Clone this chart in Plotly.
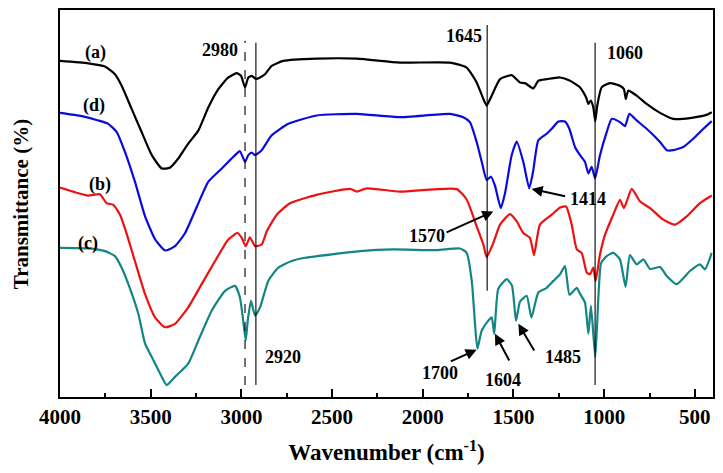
import plotly.graph_objects as go

# ---------------- data (wavenumber cm^-1, transmittance in arbitrary offset units) ----------------
wn_a = [4000, 3844, 3752, 3697, 3660, 3605, 3550, 3494, 3439, 3394, 3348, 3293, 3237, 3182, 3127, 3072,
        3026, 3002, 2980, 2962, 2943, 2920, 2897, 2870, 2833, 2769, 2585, 2364, 2126, 1850, 1758, 1703,
        1666, 1648, 1620, 1574, 1510, 1464, 1436, 1391, 1363, 1317, 1243, 1188, 1133, 1100, 1087, 1074,
        1060, 1049, 1038, 1014, 968, 913, 891, 881, 867, 821, 766, 692, 619, 527, 435, 407]
t_a = [338.7, 336.3, 333, 325.3, 313.7, 290.3, 267, 243.7, 230.3, 231, 240.3, 255.3, 268.7, 292, 310.3, 322,
       326.3, 323.7, 312, 322, 323.7, 320.5, 322, 325.3, 333.7, 338.7, 341, 341, 337, 337, 332, 317,
       300.3, 293.7, 303.7, 320.3, 324.3, 317, 316.3, 311, 318.7, 320.3, 322, 318.7, 312, 302, 295.3, 298.7,
       292, 277.7, 293.7, 312, 316.3, 313.7, 310.3, 300.3, 308.7, 303.7, 295.3, 286.3, 280.3, 281, 284.3, 287]

wn_d = [4000, 3880, 3789, 3734, 3687, 3642, 3587, 3531, 3476, 3421, 3366, 3311, 3245, 3182, 3108, 3035,
        3008, 2980, 2962, 2943, 2925, 2888, 2833, 2741, 2585, 2364, 2126, 1850, 1777, 1740, 1703, 1675,
        1648, 1624, 1602, 1570, 1547, 1510, 1482, 1446, 1413, 1391, 1363, 1317, 1289, 1253, 1216, 1192,
        1161, 1133, 1106, 1087, 1069, 1050, 1023, 986, 958, 913, 885, 861, 821, 766, 692, 655, 619, 564,
        509, 453, 407]
t_d = [286.3, 283, 278.7, 275.3, 267, 247, 217, 182, 159, 147.7, 152, 165, 192, 217, 230.3, 243.7,
       247.7, 237, 243.7, 246.3, 243.7, 248.7, 263.7, 275.3, 283.7, 285.3, 282, 285.3, 282, 277, 257, 237,
       218.7, 222, 213, 190.3, 205, 243.7, 257.5, 237, 210.3, 228, 258.7, 265.3, 270.3, 277.7, 277.7, 270.3,
       252, 243.7, 237, 225.3, 232, 220.3, 243.7, 267, 280.3, 277, 273, 285.3, 278.7, 270.3, 257, 248.7, 248.7, 252,
       260.3, 270.3, 278]

wn_b = [4000, 3917, 3844, 3780, 3743, 3706, 3669, 3631, 3587, 3531, 3476, 3421, 3366, 3293, 3219, 3145,
        3072, 3020, 2998, 2976, 2953, 2925, 2888, 2860, 2805, 2732, 2585, 2401, 2364, 2309, 2126, 1813,
        1758, 1703, 1666, 1648, 1611, 1574, 1519, 1482, 1446, 1409, 1387, 1354, 1289, 1243, 1210, 1179,
        1151, 1124, 1096, 1078, 1060, 1047, 1023, 995, 950, 913, 891, 848, 802, 747, 674, 609, 545, 472, 407]
t_b = [211, 206.3, 203, 204.3, 195.3, 193.7, 183.7, 163.7, 137, 103.7, 80.3, 70.3, 73.7, 90.3, 113.7, 137,
       158.7, 165.3, 160.3, 152, 161, 152, 153.7, 167, 183.7, 195.3, 203.7, 209.7, 207, 210.3, 207, 209.5,
       199, 172, 153.7, 141, 155.3, 173.7, 184.3, 177, 165.3, 160.3, 143, 173.7, 183.7, 191, 192, 173.7,
       148.7, 145.3, 125.3, 123.7, 130.3, 117, 143.7, 163.7, 183.7, 198.7, 190.3, 209.7, 197, 190.3, 178.7, 173.7, 182, 195.3, 203]

wn_c = [4000, 3844, 3752, 3697, 3660, 3623, 3568, 3531, 3494, 3439, 3412, 3366, 3293, 3237, 3164, 3090,
        3035, 3008, 2990, 2976, 2965, 2947, 2925, 2897, 2852, 2796, 2723, 2649, 2346, 2162, 1923, 1795,
        1758, 1730, 1712, 1699, 1675, 1639, 1620, 1606, 1584, 1537, 1508, 1486, 1464, 1427, 1401, 1363,
        1321, 1280, 1243, 1216, 1191, 1151, 1133, 1106, 1087, 1073, 1049, 1032, 1017, 986, 950, 913, 882,
        858, 821, 784, 747, 692, 655, 600, 527, 472, 444, 407]
t_c = [150.3, 149.7, 147, 142, 130.3, 113.7, 83.7, 53.7, 40.3, 20.3, 12, 20.3, 33.7, 57, 87, 107,
       112, 100.3, 77, 57, 77, 97, 82, 90.3, 117, 130.3, 137, 140.3, 147, 148.7, 148, 149.7,
       145.3, 117, 73.7, 48.7, 67, 77, 80.3, 63.7, 109, 118.7, 112, 77, 96, 102, 80, 105.3,
       109.5, 117, 123.7, 132, 103, 110, 104, 95.3, 63.7, 92, 40.3, 100.3, 135, 142, 145.3, 138.7, 111,
       143, 133.7, 138.7, 129, 131, 122, 113.7, 127, 133.7, 128.7, 145.3]

series_names = ["(a)", "(d)", "(b)", "(c)"]
series_colors = ["#000000", "#0a0ae0", "#ee1111", "#138585"]

x_ticks = [4000, 3500, 3000, 2500, 2000, 1500, 1000, 500]
x_minor = [3750, 3250, 2750, 2250, 1750, 1250, 750]

# marker lines (wavenumber, y from, y to, dash)
ref_lines = [(2980, 12, 359, "dash"), (2920, 12, 357, "solid"), (1645, 107, 375, "solid"), (1050, 12, 357, "solid")]

FONT = "Liberation Serif, 'Times New Roman', serif"

fig = go.Figure()
for wn, t, name, col in zip([wn_a, wn_d, wn_b, wn_c], [t_a, t_d, t_b, t_c], series_names, series_colors):
    fig.add_trace(go.Scatter(x=wn, y=t, mode="lines", name=name,
                             line=dict(color=col, width=2.2, shape="spline", smoothing=0.5)))

for x0, y0, y1, dash in ref_lines:
    fig.add_shape(type="line", xref="x", yref="y", x0=x0, x1=x0, y0=y0, y1=y1,
                  line=dict(color="black", width=1.1, dash=dash))

lab_font = dict(family=FONT, size=18, color="black", weight="bold")

# curve labels
for txt, x, y in [("(a)", 3802, 347), ("(d)", 3813, 294), ("(b)", 3780, 214), ("(c)", 3846, 155)]:
    fig.add_annotation(x=x, y=y, text=txt, showarrow=False, font=lab_font, xanchor="center", yanchor="middle")

# peak labels
for txt, x, y, xa in [("2980", 3008, 350, "right"), ("2920", 2881, 40, "left"), ("1645", 1663, 364, "right"),
                      ("1060", 995, 347, "left"), ("1414", 1200, 200, "left"), ("1570", 1977, 162, "center"),
                      ("1700", 1905, 24, "center"), ("1604", 1558, 17, "center"), ("1485", 1227, 40, "center")]:
    fig.add_annotation(x=x, y=y, text=txt, showarrow=False, font=lab_font, xanchor=xa, yanchor="middle")

# arrows (head x,y ; tail ax,ay)
for hx, hy, tx, ty in [(1400, 209.7, 1207, 202), (1611, 187, 1877, 165.3), (1703, 47.7, 1854, 35.3),
                       (1602, 63.7, 1519, 35.3), (1473, 73.7, 1381, 45.3)]:
    fig.add_annotation(x=hx, y=hy, ax=tx, ay=ty, axref="x", ayref="y", xref="x", yref="y", text="",
                       showarrow=True, arrowhead=2, arrowsize=1.1, arrowwidth=2, arrowcolor="black")

fig.add_annotation(xref="paper", yref="paper", x=-0.06, y=0.5, text="Transmittance (%)", textangle=-90,
                   showarrow=False, font=dict(family=FONT, size=21, color="black", weight="bold"),
                   xanchor="center", yanchor="middle")

# the page places the figure 8px from the top-left corner of the window
fig.update_layout(
    width=715, height=465,
    margin=dict(l=52, r=10, t=0, b=76),
    paper_bgcolor="white", plot_bgcolor="white",
    showlegend=False,
    xaxis=dict(range=[4000, 400], tickvals=x_ticks, ticktext=[str(v) for v in x_ticks],
               ticks="inside", ticklen=8, tickwidth=2, tickcolor="black",
               minor=dict(tickvals=x_minor, ticks="inside", ticklen=4, tickwidth=1.5, tickcolor="black"),
               showline=True, linecolor="black", linewidth=2, mirror=True,
               showgrid=False, zeroline=False,
               tickfont=dict(family=FONT, size=21, color="black", weight="bold"),
               title=dict(text="Wavenumber (cm<sup>-1</sup>)", standoff=16,
                          font=dict(family=FONT, size=23, color="black", weight="bold"))),
    yaxis=dict(range=[0, 390], showticklabels=False, ticks="", showgrid=False, zeroline=False,
               showline=True, linecolor="black", linewidth=2, mirror=True),
)

fig.write_html("out.html")
